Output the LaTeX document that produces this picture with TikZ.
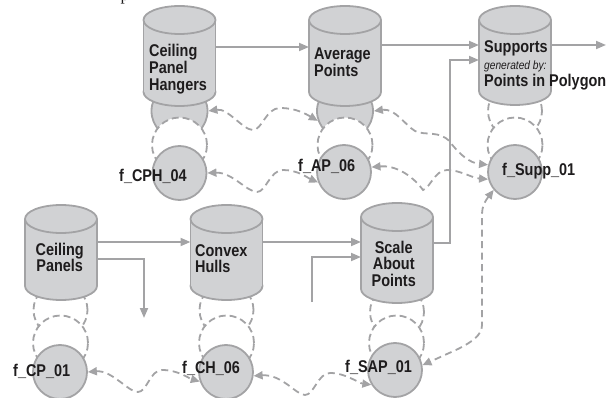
\documentclass[tikz,border=0pt]{standalone}
\usepackage{fontspec}
\setmainfont{Liberation Sans}[FakeStretch=0.85]
\newfontfamily\pageserif{Liberation Serif}
\usetikzlibrary{arrows.meta,calc}

\definecolor{cylfill}{RGB}{209,210,212}
\definecolor{linegray}{RGB}{163,163,165}
\definecolor{ink}{RGB}{30,28,29}

% centred line of a stacked caption
\newcommand\ctr[1]{\hbox to 0pt{\hss#1\hss}}

% upright cylinder: name, centre x, top y, bottom y
\newcommand\drawcyl[4]{%
  \filldraw[fill=cylfill, draw=linegray, line width=1.8pt] (#2,#4-14) ellipse[x radius=36, y radius=14];
  \fill[cylfill] (#2-36,#3+14) rectangle (#2+36,#4-14);
  \draw[linegray, line width=1.8pt] (#2-36,#3+14) -- (#2-36,#4-14) (#2+36,#3+14) -- (#2+36,#4-14);
  \filldraw[fill=cylfill, draw=linegray, line width=1.8pt] (#2,#3+14) ellipse[x radius=36, y radius=14];
  \node[anchorbox, minimum width=72pt, minimum height={#4-#3}] (#1) at (#2,{(#3+#4)/2}) {};
}

\tikzset{
  anchorbox/.style={rectangle, draw=none, inner sep=0, outer sep=0},
  lobe/.style={circle, draw=linegray, line width=1.8pt, fill=cylfill, inner sep=0, minimum size=56pt},
  uploop/.style={circle, draw=linegray, line width=1.8pt, dash pattern=on 7pt off 4pt, inner sep=0, minimum size=54pt},
  dashring/.style={circle, draw=linegray, line width=1.8pt, dash pattern=on 7pt off 4pt, fill=white, inner sep=0, minimum size=55pt},
  fnode/.style={circle, draw=linegray, line width=1.8pt, fill=cylfill, inner sep=0, minimum size=54pt},
  flow/.style={draw=linegray, line width=1.9pt, -{Triangle[length=10pt,width=8pt]}},
  sync/.style={draw=linegray, line width=1.8pt, dash pattern=on 7pt off 4.5pt,
    {Triangle[length=9pt,width=8pt]}-{Triangle[length=9pt,width=8pt]}},
  ftext/.style={inner sep=0, anchor=base west, text=ink},
}

\begin{document}
\begin{tikzpicture}[x=1pt, y=-1pt, font=\fontsize{17}{16.7}\selectfont\bfseries]
\useasboundingbox (0,0) rectangle (613,398);

% descender of the running text above
\node[inner sep=0, anchor=base west, text=ink] at (120.5,0.5) {\pageserif\mdseries\fontsize{17}{17}\selectfont p};

% lobes hidden behind the cylinders
\node[lobe] (cphlobe) at (179.5,111) {};
\node[lobe] (aplobe) at (345,111) {};
\node[uploop] (suploop) at (515,111) {};
\node[uploop] (cploop) at (60.5,310) {};
\node[uploop] (chloop) at (226.5,310) {};
\node[uploop] (saploop) at (397,312) {};

% dashed rings between cylinders and function nodes
\node[dashring] (cphring) at (179.5,145) {};
\node[dashring] (apring) at (345,145) {};
\node[dashring] (supring) at (515,145) {};
\node[dashring] (cpring) at (60.5,343) {};
\node[dashring] (chring) at (226.5,343) {};
\node[dashring] (sapring) at (396.5,343) {};

% data stores
\drawcyl{cph}{179.5}{6}{106}
\drawcyl{ap}{345}{6}{106}
\drawcyl{sup}{515}{6}{105}
\drawcyl{cp}{61}{205}{300}
\drawcyl{ch}{226.5}{205}{300}
\drawcyl{sap}{397}{203}{303}

% function nodes
\node[fnode] (fcph) at (179.5,173) {};
\node[fnode] (fap) at (344,172) {};
\node[fnode] (fsup) at (515,172) {};
\node[fnode] (fcp) at (60,372) {};
\node[fnode] (fch) at (226,372) {};
\node[fnode] (fsap) at (395,370) {};

% store captions
\node[ftext] at (149,57) {\vtop{\hbox{Ceiling}\hbox{Panel}\hbox{Hangers}}};
\node[ftext] at (314,60) {\vtop{\hbox{Average}\hbox{Points}}};
\node[ftext] at (484,53) {\vtop{\hbox{Supports}\hbox{\mdseries\itshape\fontsize{12}{16.7}\selectfont generated by:}\hbox{Points in Polygon}}};
\node[ftext] at (59,255) {\vtop{\ctr{Ceiling}\ctr{Panels}}};
\node[ftext] at (195,256) {\vtop{\hbox{Convex}\hbox{Hulls}}};
\node[ftext] at (393,253) {\vtop{\ctr{Scale}\ctr{About}\ctr{Points}}};

% function captions
\node[ftext] at (119,182) {f\_CPH\_04};
\node[ftext] at (298,172) {f\_AP\_06};
\node[ftext] at (502,176) {f\_Supp\_01};
\node[ftext] at (13,376) {f\_CP\_01};
\node[ftext] at (182,373) {f\_CH\_06};
\node[ftext] at (345,372) {f\_SAP\_01};

% data flow
\coordinate (out) at (606,45);
\coordinate (cpdown) at (144,318);
\coordinate (sapin) at (312,302);
\draw[flow] ($(cph.north east)+(0,41)$) -- ($(ap.north west)+(0,41)$);
\draw[flow] ($(ap.north east)+(0,39)$) -- ($(sup.north west)+(0,39)$);
\draw[flow] ($(sup.north east)+(0,39)$) -- (out);
\draw[flow] ($(sap.north east)+(0,40)$) -- ++(17,0) |- ($(sup.north west)+(0,54)$);
\draw[flow] ($(cp.north east)+(0,37)$) -- ($(ch.north west)+(0,37)$);
\draw[flow] ($(cp.north east)+(0,54)$) -| (cpdown);
\draw[flow] ($(ch.north east)+(0,37)$) -- ($(sap.north west)+(0,39)$);
\draw[flow] (sapin) |- ($(sap.north west)+(0,54)$);

% synchronisation links
\draw[sync] (cphlobe.east) .. controls (228,108) and (243,130) .. (253,130)
  .. controls (262,130) and (266,108) .. (280,108)
  .. controls (296,108) and (306,114) .. (aplobe.200);
\draw[sync] (fcph.east) .. controls (232,172) and (247,192) .. (257,192)
  .. controls (266,192) and (270,170) .. (283,170)
  .. controls (298,170) and (308,178) .. (fap.202);
\draw[sync] (aplobe.east) .. controls (395,108) and (405,125) .. (415,131)
  .. controls (425,136) and (440,130) .. (450,142)
  .. controls (460,155) and (470,163) .. (fsup.165);
\draw[sync] (fap.10) .. controls (395,165) and (412,175) .. (423,190)
  .. controls (430,188) and (435,170) .. (447,170)
  .. controls (460,170) and (472,178) .. (fsup.195);
\draw[sync] (fsup.220) .. controls (486,200) and (482,205) .. (482,215) -- (482,325)
  .. controls (482,335) and (472,342) .. (458,349) -- (fsap.10);
\draw[sync] (fcp.east) .. controls (112,370) and (128,392) .. (138,392)
  .. controls (147,392) and (150,370) .. (162,370)
  .. controls (178,370) and (188,378) .. (fch.200);
\draw[sync] (fch.-8) .. controls (282,374) and (296,395) .. (305,395)
  .. controls (314,395) and (318,373) .. (330,373)
  .. controls (346,373) and (358,383) .. (fsap.212);
\end{tikzpicture}
\end{document}
